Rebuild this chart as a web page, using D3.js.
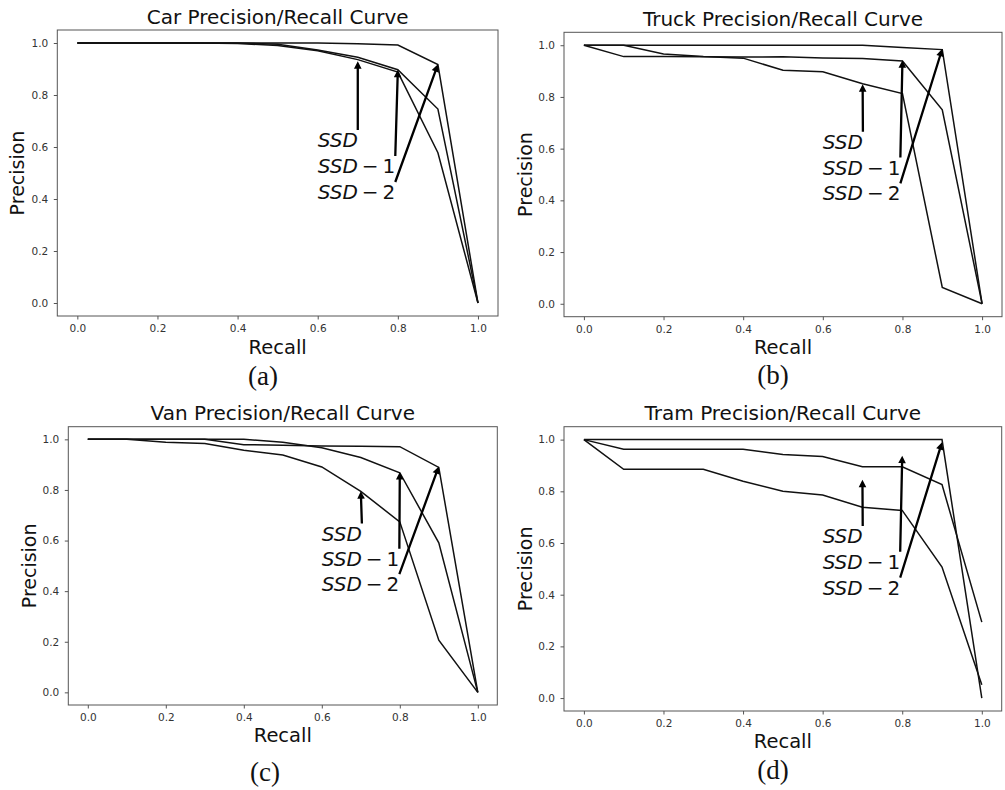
<!DOCTYPE html>
<html>
<head>
<meta charset="utf-8">
<script src="https://cdn.jsdelivr.net/npm/d3@7/dist/d3.min.js"></script>
<style>
  html, body { margin: 0; padding: 0; background: #fff; }
  svg { display: block; }
</style>
</head>
<body>
<svg id="chart" width="1005" height="790"></svg>
<script>
// ---------------- DATA ----------------
const recall = [0.0, 0.1, 0.2, 0.3, 0.4, 0.5, 0.6, 0.7, 0.8, 0.9, 1.0];
const tickValues = [0.0, 0.2, 0.4, 0.6, 0.8, 1.0];
const seriesNames = ["SSD", "SSD-1", "SSD-2"];

// Car
const carSSD  = [1.0, 1.0, 1.0, 1.0, 0.998, 0.99, 0.97, 0.936, 0.888, 0.578, 0.0];
const carSSD1 = [1.0, 1.0, 1.0, 1.0, 1.0, 0.995, 0.973, 0.945, 0.897, 0.746, 0.0];
const carSSD2 = [1.0, 1.0, 1.0, 1.0, 1.0, 1.0, 1.0, 0.997, 0.992, 0.917, 0.0];
const carArrowTargets = [[0.7, 0.93], [0.8, 0.897], [0.9, 0.918]];

// Truck
const truckSSD  = [1.0, 1.0, 0.966, 0.956, 0.95, 0.903, 0.897, 0.851, 0.813, 0.063, 0.0];
const truckSSD1 = [1.0, 0.956, 0.956, 0.955, 0.954, 0.955, 0.951, 0.949, 0.939, 0.75, 0.0];
const truckSSD2 = [1.0, 1.0, 1.0, 1.0, 1.0, 1.0, 1.0, 1.0, 0.991, 0.983, 0.0];
const truckArrowTargets = [[0.7, 0.849], [0.8, 0.942], [0.9, 0.986]];

// Van
const vanSSD  = [1.0, 1.0, 0.989, 0.984, 0.957, 0.938, 0.891, 0.794, 0.674, 0.206, 0.0];
const vanSSD1 = [1.0, 1.0, 1.0, 1.0, 1.0, 0.989, 0.967, 0.928, 0.868, 0.591, 0.0];
const vanSSD2 = [1.0, 1.0, 1.0, 1.0, 0.979, 0.977, 0.974, 0.973, 0.971, 0.889, 0.0];
const vanArrowTargets = [[0.7, 0.795], [0.8, 0.871], [0.9, 0.893]];

// Tram
const tramSSD  = [1.0, 0.885, 0.885, 0.885, 0.839, 0.80, 0.786, 0.738, 0.726, 0.507, 0.052];
const tramSSD1 = [1.0, 0.963, 0.963, 0.963, 0.963, 0.942, 0.935, 0.895, 0.895, 0.826, 0.294];
const tramSSD2 = [1.0, 1.0, 1.0, 1.0, 1.0, 1.0, 1.0, 1.0, 1.0, 1.0, 0.0];
const tramArrowTargets = [[0.7, 0.845], [0.8, 0.938], [0.9, 0.99]];

// annotation text anchor (data coords)
const labelX = 0.6;
const labelY = [0.6, 0.5, 0.4];

// ---------------- LAYOUT ----------------
const panels = [
  { title: "Car Precision/Recall Curve", caption: "(a)",
    series: [carSSD, carSSD1, carSSD2], targets: carArrowTargets,
    box: { l: 57.3, r: 498, t: 30, b: 316 }, titleY: 24, ylabX: 17, xlabY: 354, capX: 263, capY: 385 },
  { title: "Truck Precision/Recall Curve", caption: "(b)",
    series: [truckSSD, truckSSD1, truckSSD2], targets: truckArrowTargets,
    box: { l: 564, r: 1002, t: 32.3, b: 316.7 }, titleY: 26, ylabX: 525, xlabY: 354, capX: 773, capY: 384 },
  { title: "Van Precision/Recall Curve", caption: "(c)",
    series: [vanSSD, vanSSD1, vanSSD2], targets: vanArrowTargets,
    box: { l: 68.3, r: 497.3, t: 426.7, b: 705 }, titleY: 420, ylabX: 29.5, xlabY: 742, capX: 265, capY: 781 },
  { title: "Tram Precision/Recall Curve", caption: "(d)",
    series: [tramSSD, tramSSD1, tramSSD2], targets: tramArrowTargets,
    box: { l: 564, r: 1001.7, t: 426.7, b: 711 }, titleY: 420, ylabX: 525, xlabY: 747.5, capX: 773, capY: 779 }
];

const svg = d3.select("#chart");
const SANS = "DejaVu Sans, sans-serif";

function arrowPath(x0, y0, x1, y1) {
  const dx = x1 - x0, dy = y1 - y0;
  const L = Math.hypot(dx, dy);
  const ux = dx / L, uy = dy / L;
  const nx = -uy, ny = ux;
  const hl = 7.5, hw = 3.8, sw = 1.15;
  const bx = x1 - ux * hl, by = y1 - uy * hl;
  const pts = [
    [x0 + nx * sw, y0 + ny * sw],
    [bx + nx * sw, by + ny * sw],
    [bx + nx * hw, by + ny * hw],
    [x1, y1],
    [bx - nx * hw, by - ny * hw],
    [bx - nx * sw, by - ny * sw],
    [x0 - nx * sw, y0 - ny * sw]
  ];
  return "M" + pts.map(p => p[0].toFixed(2) + "," + p[1].toFixed(2)).join("L") + "Z";
}

panels.forEach(p => {
  const { l, r, t, b } = p.box;
  const x = d3.scaleLinear().domain([-0.05, 1.05]).range([l, r]);
  const y = d3.scaleLinear().domain([-0.05, 1.05]).range([b, t]);
  const g = svg.append("g");

  // axes
  const xAxis = d3.axisBottom(x).tickValues(tickValues).tickFormat(d3.format(".1f"))
    .tickSize(3.5).tickPadding(5.5);
  const yAxis = d3.axisLeft(y).tickValues(tickValues).tickFormat(d3.format(".1f"))
    .tickSize(3.5).tickPadding(5.5);

  const gx = g.append("g").attr("transform", `translate(0,${b})`).call(xAxis);
  const gy = g.append("g").attr("transform", `translate(${l},0)`).call(yAxis);
  [gx, gy].forEach(ax => {
    ax.select(".domain").remove();
    ax.selectAll(".tick line").attr("stroke", "#555").attr("stroke-width", 1);
    ax.selectAll(".tick text").attr("fill", "#333").style("font-family", SANS).style("font-size", "10.5px");
  });

  // frame
  g.append("rect").attr("x", l).attr("y", t).attr("width", r - l).attr("height", b - t)
    .attr("fill", "none").attr("stroke", "#555").attr("stroke-width", 1);

  // lines
  const line = d3.line().x((d, i) => x(recall[i])).y(d => y(d));
  p.series.forEach(s => {
    g.append("path").datum(s).attr("d", line)
      .attr("fill", "none").attr("stroke", "#111").attr("stroke-width", 1.5)
      .attr("stroke-linejoin", "miter");
  });

  // annotations
  seriesNames.forEach((name, k) => {
    const tx = x(labelX), ty = y(labelY[k]);
    const txt = g.append("text").attr("x", tx).attr("y", ty)
      .style("font-family", SANS).style("font-size", "20px").attr("fill", "#111");
    const parts = name.split("-");
    txt.append("tspan").style("font-style", "italic").text(parts[0]);
    if (parts.length > 1) {
      txt.append("tspan").text("\u2009\u2212\u2009" + parts[1]);
    }
    const w = txt.node().getComputedTextLength();
    const tail = [tx + w, ty - 17];
    const tgt = p.targets[k];
    g.append("path").attr("d", arrowPath(tail[0], tail[1], x(tgt[0]), y(tgt[1])))
      .attr("fill", "#000").attr("stroke", "none");
  });

  // title
  g.append("text").attr("x", (l + r) / 2).attr("y", p.titleY).attr("text-anchor", "middle")
    .style("font-family", SANS).style("font-size", "20px").attr("fill", "#111").text(p.title);

  // axis labels
  g.append("text").attr("x", (l + r) / 2).attr("y", p.xlabY).attr("text-anchor", "middle")
    .style("font-family", SANS).style("font-size", "19.5px").attr("fill", "#111").text("Recall");
  g.append("text")
    .attr("transform", `translate(${p.ylabX},${(t + b) / 2}) rotate(-90)`)
    .attr("text-anchor", "middle").attr("dy", "0.35em")
    .style("font-family", SANS).style("font-size", "19px").attr("fill", "#111").text("Precision");

  // caption
  svg.append("text").attr("x", p.capX).attr("y", p.capY).attr("text-anchor", "middle")
    .style("font-family", "Liberation Serif, serif").style("font-size", "27px")
    .attr("fill", "#111").text(p.caption);
});
</script>
</body>
</html>
